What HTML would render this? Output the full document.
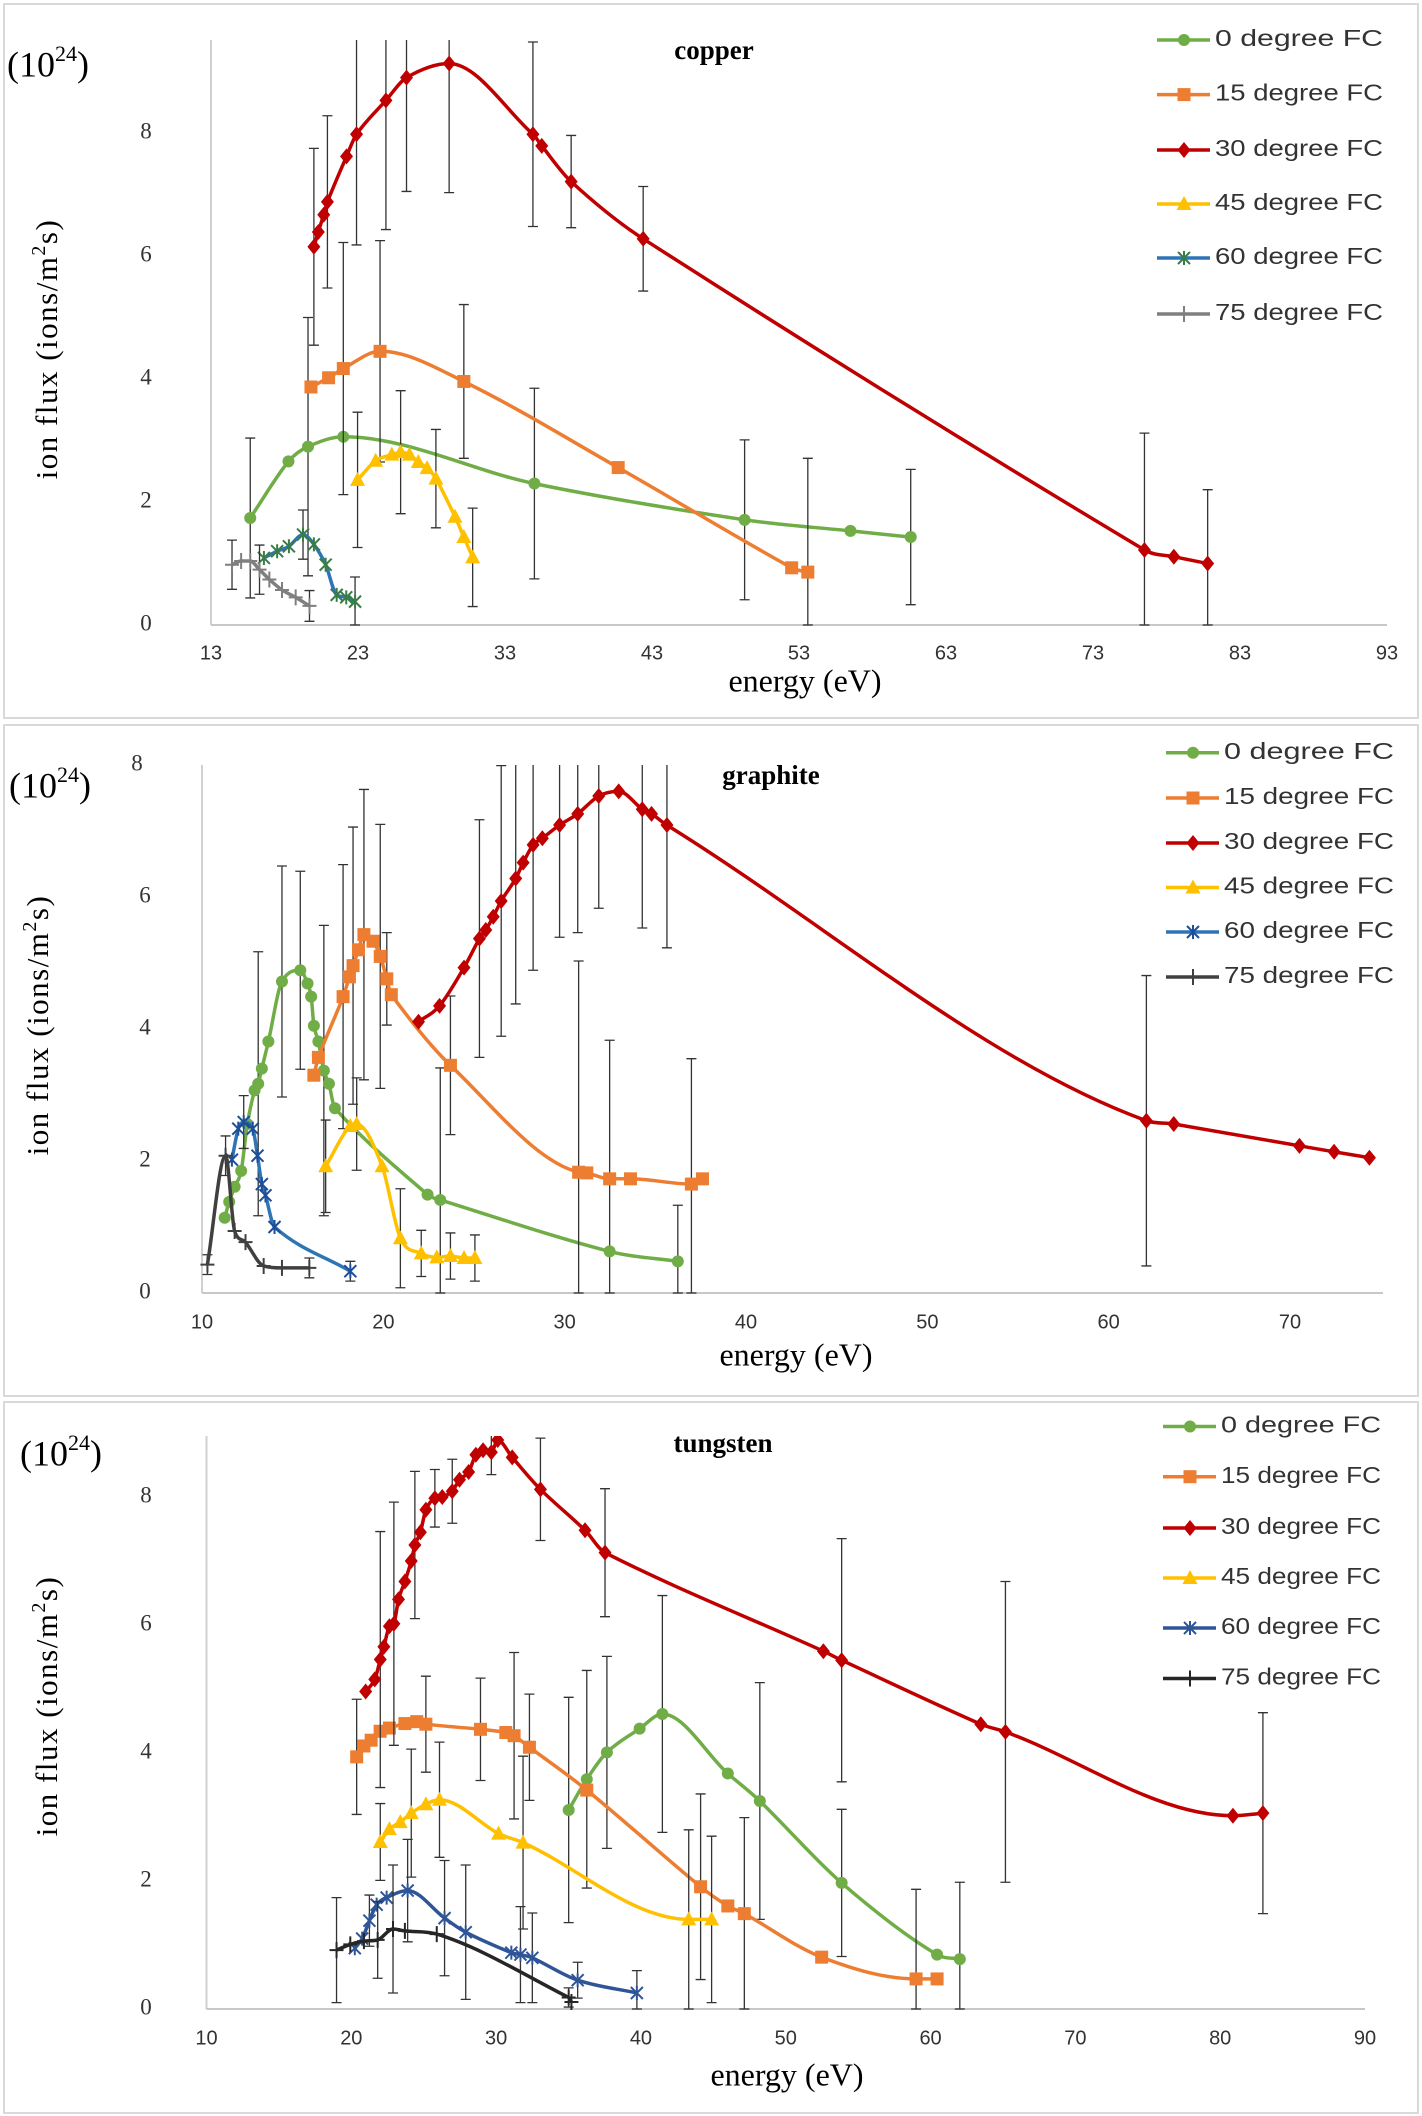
<!DOCTYPE html>
<html><head><meta charset="utf-8">
<style>
html,body{margin:0;padding:0;background:#fff;}
svg{display:block;}
text{font-family:"Liberation Sans",sans-serif;}
.serif{font-family:"Liberation Serif",serif;}
</style></head>
<body>
<svg id="fig" width="1422" height="2116" viewBox="0 0 1422 2116" xmlns="http://www.w3.org/2000/svg"></svg>
<script>
// ===== copper data =====
const cu0x=[15.67,18.27,19.6,22.0,35.0,49.3,56.5,60.6];
const cu0y=[1.74,2.66,2.9,3.06,2.3,1.71,1.53,1.43];
const cu0e=[1.3,0,2.1,0,1.55,1.3,0,1.1];
const cu15x=[19.8,21.0,22.0,24.5,30.2,40.7,52.5,53.6];
const cu15y=[3.87,4.02,4.17,4.45,3.96,2.56,0.93,0.86];
const cu15e=[0,0,2.05,1.8,1.25,0,0,1.85];
const cu30x=[20.0,20.3,20.67,20.92,22.22,22.9,24.9,26.3,29.2,34.9,35.5,37.5,42.4,76.5,78.5,80.8];
const cu30y=[6.15,6.39,6.67,6.88,7.62,7.98,8.53,8.9,9.13,7.98,7.79,7.21,6.28,1.22,1.11,1.0];
const cu30e=[1.6,0,0,1.4,0,1.8,2.1,1.85,2.1,1.5,0,0.75,0.85,1.9,0,1.2];
const cu45x=[22.97,24.2,25.3,25.9,26.5,27.1,27.7,28.3,29.6,30.2,30.8];
const cu45y=[2.36,2.67,2.77,2.81,2.77,2.65,2.55,2.38,1.76,1.43,1.1];
const cu45e=[1.1,0,0,1.0,0,0,0,0.8,0,0,0.8];
const cu60x=[16.6,17.5,18.3,19.26,20.0,20.8,21.55,22.2,22.8];
const cu60y=[1.09,1.2,1.28,1.47,1.31,0.98,0.49,0.45,0.38];
const cu60e=[0,0,0,0.4,0,0,0,0,0.4];
const cu75x=[14.43,15.05,15.67,16.3,16.97,17.83,18.76,19.7];
const cu75y=[0.98,1.04,1.04,0.9,0.74,0.57,0.45,0.31];
const cu75e=[0.4,0,0,0.4,0,0,0,0.25];
const cuXTicks=[13,23,33,43,53,63,73,83,93];
const cuYTicks=[0,2,4,6,8];

// ===== graphite data =====
const gr0x=[11.25,11.5,11.8,12.16,12.5,12.9,13.1,13.3,13.66,14.41,15.42,15.82,16.02,16.17,16.42,16.72,17.0,17.33,22.44,23.14,32.48,36.24];
const gr0y=[1.14,1.38,1.61,1.85,2.56,3.07,3.17,3.4,3.81,4.72,4.89,4.69,4.49,4.05,3.81,3.37,3.17,2.8,1.49,1.41,0.63,0.48];
const gr0e=[0,0,0,0,0,0,2.0,0,0,1.75,1.5,0,0,0,0,2.2,0,0,0,2.0,3.2,0.85];
const gr15x=[16.17,16.42,17.78,18.13,18.33,18.63,18.93,19.43,19.83,20.19,20.44,23.7,30.77,31.22,32.48,33.63,36.99,37.6];
const gr15y=[3.3,3.57,4.49,4.79,4.96,5.2,5.43,5.33,5.1,4.76,4.52,3.45,1.83,1.82,1.73,1.73,1.65,1.73];
const gr15e=[0,0,2.0,0,2.1,0,2.2,0,2.0,0.7,0,1.05,3.2,0,0,0,1.9,0];
const gr30x=[21.94,23.1,24.45,25.3,25.65,26.06,26.5,27.3,27.71,28.26,28.77,29.72,30.72,31.88,32.98,34.28,34.79,35.64,62.08,63.59,70.52,72.43,74.38];
const gr30y=[4.11,4.35,4.93,5.37,5.5,5.7,5.94,6.28,6.52,6.79,6.89,7.09,7.26,7.53,7.6,7.33,7.26,7.09,2.61,2.56,2.23,2.14,2.05];
const gr30e=[0,0,0,1.8,0,0,2.05,1.9,0,1.9,0,1.7,1.8,1.7,0,1.8,0,1.86,2.2,0,0,0,0];
const gr45x=[16.82,18.18,18.53,19.93,20.94,22.09,22.95,23.7,24.45,25.05];
const gr45y=[1.92,2.53,2.56,1.92,0.83,0.6,0.54,0.56,0.53,0.53];
const gr45e=[0.7,0,0.7,0,0.75,0.35,0,0.35,0,0.35];
const gr60x=[11.65,12.0,12.3,12.8,13.06,13.3,13.5,14.0,18.18];
const gr60y=[2.02,2.49,2.59,2.49,2.08,1.65,1.48,1.0,0.33];
const gr60e=[0,0,0.4,0,0,0,0,0,0.15];
const gr75x=[10.3,11.3,11.8,12.4,13.4,14.41,15.92];
const gr75y=[0.43,2.08,0.94,0.77,0.41,0.38,0.38];
const gr75e=[0.15,0.3,0,0,0,0,0.15];
const grXTicks=[10,20,30,40,50,60,70];
const grYTicks=[0,2,4,6,8];

// ===== tungsten data =====
const w0x=[35.01,36.26,37.65,39.91,41.48,46.0,48.21,53.86,60.45,62.02];
const w0y=[3.11,3.59,4.01,4.38,4.61,3.68,3.25,1.97,0.85,0.78];
const w0e=[1.76,1.7,1.5,0,1.85,0,1.85,1.15,0,1.2];
const w15x=[20.37,20.87,21.37,21.99,22.63,23.7,24.52,25.15,28.92,30.67,31.24,32.3,36.26,44.12,46.0,47.14,52.48,59.0,60.45];
const w15y=[3.94,4.11,4.2,4.34,4.39,4.46,4.49,4.45,4.37,4.32,4.27,4.09,3.42,1.91,1.61,1.49,0.81,0.47,0.47];
const w15e=[0.9,0,0,0,0,0,0,0.75,0.8,0,1.3,0.83,0,1.45,0,1.5,0,1.4,0];
const w30x=[20.99,21.62,22.0,22.25,22.63,22.94,23.26,23.7,24.14,24.39,24.77,25.15,25.77,26.28,26.97,27.47,28.1,28.6,29.1,29.67,30.11,31.11,33.06,36.14,37.52,52.6,53.86,63.47,65.17,80.88,82.95];
const w30y=[4.96,5.15,5.46,5.66,5.98,6.02,6.4,6.68,7.0,7.25,7.45,7.8,7.98,8.0,8.09,8.27,8.39,8.66,8.73,8.7,8.89,8.62,8.12,7.48,7.13,5.59,5.45,4.45,4.33,3.02,3.06];
const w30e=[0,0,2.0,0,0,1.9,0,0,0,1.15,0,0,0.45,0,0.5,0,0,0,0,0.35,0,0,0.8,0,1.0,0,1.9,0,2.35,0,1.57];
const w45x=[22.0,22.63,23.38,24.14,25.15,26.09,30.17,31.86,43.3,44.88];
const w45y=[2.61,2.81,2.92,3.06,3.2,3.27,2.74,2.6,1.4,1.4];
const w45e=[0.6,0,0,1.0,0,0.9,0,1.35,1.4,1.3];
const w60x=[20.24,20.75,21.25,21.75,22.44,23.89,26.44,27.9,31.05,31.68,32.5,35.63,39.72];
const w60y=[0.95,1.1,1.38,1.63,1.74,1.85,1.42,1.2,0.88,0.85,0.8,0.45,0.25];
const w60e=[0,0,0.4,0,0,0.8,0.9,1.05,0,0.75,0.7,0.28,0.35];
const w75x=[18.98,19.93,20.87,21.82,22.88,23.7,25.9,35.01,35.2];
const w75y=[0.92,1.01,1.06,1.08,1.25,1.22,1.17,0.18,0.11];
const w75e=[0.82,0,0,0.6,1.0,0,0,0.15,0];
const wXTicks=[10,20,30,40,50,60,70,80,90];
const wYTicks=[0,2,4,6,8];

const legendLabels=["0   degree FC","15 degree FC","30 degree FC","45 degree FC","60 degree FC","75 degree FC"];
const markerTypes=["circle","square","diamond","triangle","star","plus"];

const NS="http://www.w3.org/2000/svg";
const svg=document.getElementById('fig');
function mk(tag,attrs,parent){const e=document.createElementNS(NS,tag);for(const k in attrs)e.setAttribute(k,attrs[k]);(parent||svg).appendChild(e);return e;}

function smoothPath(pts){
  const n=pts.length; if(n<2)return '';
  const dx=[],m=[];
  for(let i=0;i<n-1;i++){dx[i]=pts[i+1][0]-pts[i][0];m[i]=dx[i]?(pts[i+1][1]-pts[i][1])/dx[i]:0;}
  const t=[];
  t[0]=m[0];t[n-1]=m[n-2];
  for(let i=1;i<n-1;i++){
    if(m[i-1]*m[i]<=0){t[i]=0;continue;}
    const span=pts[i+1][0]-pts[i-1][0];
    let s=span?(pts[i+1][1]-pts[i-1][1])/span:0;
    const lim=3*Math.min(Math.abs(m[i-1]),Math.abs(m[i]));
    if(Math.abs(s)>lim)s=Math.sign(s)*lim;
    t[i]=s;
  }
  let d='M'+pts[0][0].toFixed(1)+','+pts[0][1].toFixed(1);
  for(let i=0;i<n-1;i++){
    const h=dx[i]/3;
    d+=' C'+(pts[i][0]+h).toFixed(1)+','+(pts[i][1]+t[i]*h).toFixed(1)+' '+(pts[i+1][0]-h).toFixed(1)+','+(pts[i+1][1]-t[i+1]*h).toFixed(1)+' '+pts[i+1][0].toFixed(1)+','+pts[i+1][1].toFixed(1);
  }
  return d;
}

function drawMarker(g,type,cx,cy,color,mcolor){
  let m;
  if(type==='circle') m=mk('circle',{cx:cx,cy:cy,r:6,fill:color},g);
  else if(type==='square') m=mk('rect',{x:cx-6.5,y:cy-6.5,width:13,height:13,fill:color},g);
  else if(type==='diamond') m=mk('polygon',{points:`${cx},${cy-8} ${cx+6.5},${cy} ${cx},${cy+8} ${cx-6.5},${cy}`,fill:color},g);
  else if(type==='triangle') m=mk('polygon',{points:`${cx},${cy-8} ${cx+7.5},${cy+6} ${cx-7.5},${cy+6}`,fill:color},g);
  else if(type==='star'){m=mk('path',{d:`M${cx-6},${cy-6}L${cx+6},${cy+6}M${cx+6},${cy-6}L${cx-6},${cy+6}M${cx},${cy-7}L${cx},${cy+7}`,stroke:mcolor||color,'stroke-width':2,fill:'none'},g);}
  else {m=mk('path',{d:`M${cx-7},${cy}L${cx+7},${cy}M${cx},${cy-8}L${cx},${cy+8}`,stroke:mcolor||color,'stroke-width':2,fill:'none'},g);}
  
  
}

function drawChart(cfg){
  const g=mk('g',{});
  
  
  const X=v=>cfg.px0+(v-cfg.x0)*(cfg.px1-cfg.px0)/(cfg.x1-cfg.x0);
  const Y=v=>cfg.py0-v*cfg.unit;
  const panel=mk('rect',{x:cfg.box[0],y:cfg.box[1],width:cfg.box[2],height:cfg.box[3],fill:'#fff',stroke:'#d9d9d9','stroke-width':2},g);
  
  
  const clipId='clip-'+cfg.name;
  const cp=mk('clipPath',{id:clipId},g);
  mk('rect',{x:cfg.px0-20,y:cfg.ytop,width:cfg.axEnd-cfg.px0+40,height:cfg.py0-cfg.ytop+2},cp);
  const yax=mk('line',{x1:cfg.px0,y1:cfg.ytop,x2:cfg.px0,y2:cfg.py0,stroke:'#d0d0d0','stroke-width':2},g);
  
  
  const xax=mk('line',{x1:cfg.px0,y1:cfg.py0,x2:cfg.axEnd,y2:cfg.py0,stroke:'#c8c8c8','stroke-width':2},g);
  
  
  cfg.xticks.forEach(t=>{
    const tx=mk('text',{x:X(t),y:cfg.xLabY,'font-size':20,'text-anchor':'middle','dominant-baseline':'middle',fill:'#333'},g);
    tx.textContent=t;
    
    
  });
  cfg.yticks.forEach(t=>{
    const tx=mk('text',{x:(t===8&&cfg.y8x)?cfg.y8x:cfg.yLabX,y:Y(t),'font-size':23,'text-anchor':'middle','dominant-baseline':'middle',fill:'#333',class:'serif'},g);
    tx.textContent=t;
    
    
  });
  const title=mk('text',{x:cfg.title[0],y:cfg.title[1],'font-size':27,'font-weight':'bold','text-anchor':'middle','dominant-baseline':'middle',class:'serif',fill:'#000'},g);
  title.textContent=cfg.name;
  
  
  const mult=mk('text',{x:cfg.mult[0],y:cfg.mult[1],'font-size':36,class:'serif',fill:'#000','dominant-baseline':'middle'},g);
  mult.innerHTML='(10<tspan font-size="22" dy="-12">24</tspan><tspan dy="12">)</tspan>';
  
  
  const yt=mk('text',{x:0,y:0,'font-size':31,class:'serif','text-anchor':'middle','dominant-baseline':'middle',transform:`translate(${cfg.ytitle[0]},${cfg.ytitle[1]}) rotate(-90)`,fill:'#000','letter-spacing':'1.5'},g);
  yt.innerHTML='ion flux (ions/m<tspan font-size="20" dy="-10">2</tspan><tspan dy="10">s)</tspan>';
  
  
  const xt=mk('text',{x:cfg.xtitle[0],y:cfg.xtitle[1],'font-size':32,class:'serif','text-anchor':'middle','dominant-baseline':'middle',fill:'#000'},g);
  xt.textContent='energy  (eV)';
  
  

  const pg=mk('g',{'clip-path':`url(#${clipId})`},g);
  cfg.series.forEach((s,si)=>{
    const sg=mk('g',{},pg);
    
    
    s.x.forEach((xv,i)=>{
      const e=s.e[i]; if(!e) return;
      const cx=X(xv),yt2=Y(s.y[i]+e),yb=Y(Math.max(0,s.y[i]-e));
      const eb=mk('path',{d:`M${cx},${yt2}L${cx},${yb}M${cx-5},${yt2}L${cx+5},${yt2}M${cx-5},${yb}L${cx+5},${yb}`,stroke:'#333','stroke-width':1.3,fill:'none'},sg);
      
      
    });
    const pts=s.x.map((xv,i)=>[X(xv),Y(s.y[i])]);
    const ln=mk('path',{d:smoothPath(pts),stroke:s.c,'stroke-width':3.5,fill:'none'},sg);
    
    
    pts.forEach(p=>drawMarker(sg,markerTypes[si],p[0],p[1],s.c,s.mc));
  });
  cfg.series.forEach((s,si)=>{
    const ly=cfg.legY[si];
    const lg=mk('g',{},g);
    
    
    mk('line',{x1:cfg.legX,y1:ly,x2:cfg.legX+53,y2:ly,stroke:s.c,'stroke-width':3.5},lg);
    drawMarker(lg,markerTypes[si],cfg.legX+27,ly,s.c,s.mc);
    const t=mk('text',{x:cfg.legX+58,y:ly,'font-size':23,'dominant-baseline':'middle',fill:'#333',textLength:cfg.legW,lengthAdjust:'spacingAndGlyphs'},lg);
    t.textContent=legendLabels[si];
    
    
  });
}

drawChart({name:'copper',box:[4,4,1414,714],x0:13,x1:93,px0:211,px1:1387,axEnd:1387,py0:625,unit:61.5,ytop:40,
  xticks:cuXTicks,yticks:cuYTicks,xLabY:654,yLabX:146,title:[714,53],mult:[7,68],ytitle:[50,349],xtitle:[805,684],
  legX:1157,legW:168,legY:[40,94.6,150,204,258,314],
  series:[{x:cu0x,y:cu0y,e:cu0e,c:'#70ad47'},{x:cu15x,y:cu15y,e:cu15e,c:'#ed7d31'},{x:cu30x,y:cu30y,e:cu30e,c:'#c00000'},
    {x:cu45x,y:cu45y,e:cu45e,c:'#ffc000'},{x:cu60x,y:cu60y,e:cu60e,c:'#2e75b6',mc:'#3a7d44'},{x:cu75x,y:cu75y,e:cu75e,c:'#7f7f7f'}]});

drawChart({name:'graphite',box:[4,725,1414,671],x0:10,x1:70,px0:202,px1:1290,axEnd:1383,py0:1293,unit:66,ytop:765,
  xticks:grXTicks,yticks:grYTicks,xLabY:1323,yLabX:145,y8x:137,title:[771,778],mult:[9,789],ytitle:[41,1025],xtitle:[796,1358],
  legX:1166,legW:170,legY:[752.7,798,843,887.5,932,977],
  series:[{x:gr0x,y:gr0y,e:gr0e,c:'#70ad47'},{x:gr15x,y:gr15y,e:gr15e,c:'#ed7d31'},{x:gr30x,y:gr30y,e:gr30e,c:'#c00000'},
    {x:gr45x,y:gr45y,e:gr45e,c:'#ffc000'},{x:gr60x,y:gr60y,e:gr60e,c:'#2e75b6',mc:'#1f4e99'},{x:gr75x,y:gr75y,e:gr75e,c:'#404040'}]});

drawChart({name:'tungsten',box:[4,1402,1414,711],x0:10,x1:90,px0:206.5,px1:1365,axEnd:1365,py0:2009,unit:64,ytop:1436,
  xticks:wXTicks,yticks:wYTicks,xLabY:2039,yLabX:146,title:[723,1446],mult:[20,1457],ytitle:[50,1706],xtitle:[787,2078],
  legX:1163,legW:160,legY:[1426.5,1476.7,1528,1578,1628,1678.5],
  series:[{x:w0x,y:w0y,e:w0e,c:'#70ad47'},{x:w15x,y:w15y,e:w15e,c:'#ed7d31'},{x:w30x,y:w30y,e:w30e,c:'#c00000'},
    {x:w45x,y:w45y,e:w45e,c:'#ffc000'},{x:w60x,y:w60y,e:w60e,c:'#2f5597'},{x:w75x,y:w75y,e:w75e,c:'#262626'}]});
</script>
</body></html>
